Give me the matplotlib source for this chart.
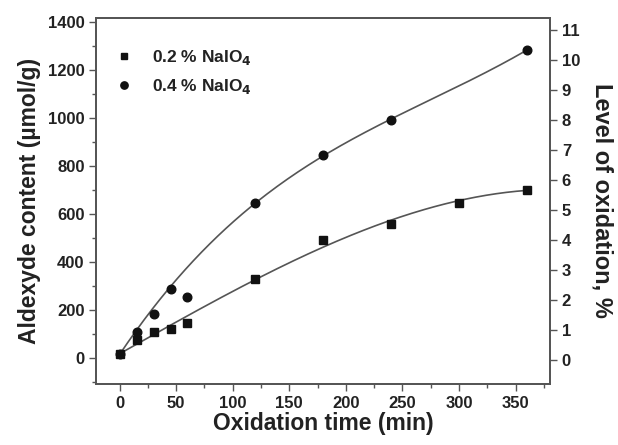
import numpy as np
import matplotlib
matplotlib.use("Agg")
import matplotlib.pyplot as plt
from matplotlib.ticker import MultipleLocator

plt.rcParams['font.family'] = ['Liberation Sans', 'DejaVu Sans']
plt.rcParams['font.weight'] = 'bold'

# Data
time_02 = [0, 15, 30, 45, 60, 120, 180, 240, 300, 360]
ald_02 = [18, 75, 108, 121, 146, 329, 492, 558, 646, 700]
fitw_02 = [3, 1, 1, 1, 1, 2, 1, 1, 1, 2]
time_04 = [0, 15, 30, 45, 60, 120, 180, 240, 360]
ald_04 = [18, 108, 183, 287, 254, 646, 846, 992, 1283]
fitw_04 = [3, 0.3, 1, 1, 0.1, 3, 3, 3, 3]
labels = ['0.2 % NaIO$_4$', '0.4 % NaIO$_4$']

xticks = [0, 50, 100, 150, 200, 250, 300, 350]
yticks_left = [0, 200, 400, 600, 800, 1000, 1200, 1400]
yticks_right = list(range(0, 12))

fig = plt.figure(figsize=(6.18, 4.45), dpi=100)
ax = fig.add_axes([0.156, 0.137, 0.734, 0.823])

dark = '#222222'
spine_c = '#555555'

xs = np.linspace(0, 360, 200)
for t, v, w in [(time_02, ald_02, fitw_02), (time_04, ald_04, fitw_04)]:
    p = np.polyfit(t, v, 3, w=w)
    ax.plot(xs, np.polyval(p, xs), color='#555555', lw=1.2, zorder=2)

h1, = ax.plot(time_02, ald_02, 's', color='#111111', ms=5.5, ls='none', zorder=3)
h2, = ax.plot(time_04, ald_04, 'o', color='#111111', ms=6.2, ls='none', zorder=3)

ax.set_xlim(-20.5, 380.5)
ax.set_ylim(-108, 1417)
ax.set_xticks(xticks)
ax.set_yticks(yticks_left)
ax.xaxis.set_minor_locator(MultipleLocator(25))
ax.yaxis.set_minor_locator(MultipleLocator(100))
ax.tick_params(which='major', direction='out', length=5, width=1, colors=spine_c,
               labelcolor=dark, labelsize=12, top=False, right=False)
ax.tick_params(which='minor', direction='out', length=3, width=1, colors=spine_c,
               top=False, right=False)
for s in ax.spines.values():
    s.set_color(spine_c)
    s.set_linewidth(1.3)

ax.set_xlabel('Oxidation time (min)', fontsize=16.5, fontweight='bold', color=dark, labelpad=1)
ax.set_ylabel('Aldexyde content (µmol/g)', fontsize=16.5, fontweight='bold', color=dark, labelpad=5)

ax2 = ax.twinx()
ax2.set_ylim(-0.8, 11.4)
ax2.set_yticks(yticks_right)
ax2.tick_params(which='major', direction='out', length=5, width=1, colors=spine_c,
                labelcolor=dark, labelsize=12)
for s in ax2.spines.values():
    s.set_color(spine_c)
    s.set_linewidth(1.3)
ax2.set_ylabel('Level of oxidation, %', fontsize=17, fontweight='bold', color=dark,
               rotation=270, labelpad=24)

leg = ax.legend([h1, h2], labels, loc='upper left', bbox_to_anchor=(-0.012, 0.961),
                frameon=False, fontsize=12.5, handletextpad=0.6, labelspacing=0.62,
                numpoints=1, markerscale=0.85)
for t in leg.get_texts():
    t.set_color(dark)
    t.set_fontweight('bold')

fig.savefig('out.png', dpi=100)
